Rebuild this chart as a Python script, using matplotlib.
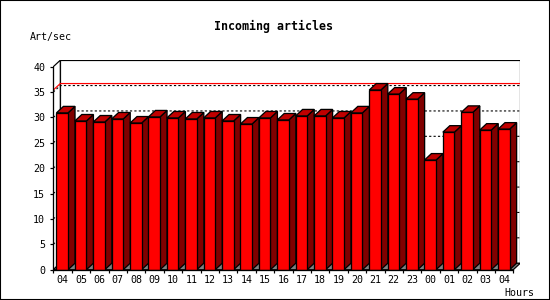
import matplotlib
matplotlib.use('Agg')
import matplotlib.pyplot as plt
from matplotlib.patches import Polygon, Rectangle

hours = ['04', '05', '06', '07', '08', '09', '10', '11', '12', '13', '14', '15', '16',
         '17', '18', '19', '20', '21', '22', '23', '00', '01', '02', '03', '04']
values = [30.9, 29.3, 29.1, 29.7, 28.9, 30.1, 29.9, 29.7, 29.9, 29.3, 28.7, 29.9, 29.5,
          30.3, 30.3, 29.9, 30.9, 35.4, 34.6, 33.6, 21.6, 27.1, 31.0, 27.5, 27.7]
y_ticks = [0, 5, 10, 15, 20, 25, 30, 35, 40]
title = 'Incoming articles'
y_label = 'Art/sec'
x_label = 'Hours'

plt.rcParams['font.family'] = 'DejaVu Sans Mono'

W, H = 550, 300
fig = plt.figure(figsize=(W / 100, H / 100), dpi=100)

# front plane layout in pixels, plus the 3d depth offset
left_px, bottom_px = 53.3, 30.3
slot_px, unit_px = 18.4, 5.075
depth_x_px, depth_y_px = 7.0, 6.5

n = len(hours)
ymax = y_ticks[-1]
dx = depth_x_px / slot_px
dy = depth_y_px / unit_px
px = 0.72  # one pixel in points

ax = fig.add_axes([left_px / W, bottom_px / H,
                   (n * slot_px + depth_x_px) / W, (ymax * unit_px + depth_y_px) / H])
ax.set_xlim(0, n + dx)
ax.set_ylim(0, ymax + dy)
ax.patch.set_visible(False)

# walls and floor
ax.add_patch(Rectangle((dx, dy), n, ymax, fc='white', ec='black', lw=px * 1.2, zorder=0.5))
ax.add_patch(Polygon([(0, 0), (dx, dy), (dx, ymax + dy), (0, ymax)], closed=True,
                     fc='white', ec='black', lw=px * 1.2, zorder=0.6))
ax.add_patch(Polygon([(0, 0), (n, 0), (n + dx, dy), (dx, dy)], closed=True,
                     fc='#808080', ec='black', lw=px * 1.2, zorder=0.7))

# dotted grid on back wall and side wall
for v in y_ticks[1:-1]:
    ax.plot([0, dx, n + dx], [v, v + dy, v + dy], color='black', lw=px * 1.1,
            dashes=(2, 2), zorder=0.8)

# max line
vmax = max(values)
ax.plot([0, dx, n + dx], [vmax, vmax + dy, vmax + dy], color='#ff0000', lw=px * 1.2, zorder=0.9)

# bars: side + top faces, then fronts
off, bw = 0.17, 0.63
for i, v in enumerate(values):
    x0 = i + off
    x1 = x0 + bw
    ax.add_patch(Polygon([(x1, 0), (x1 + dx, dy), (x1 + dx, v + dy), (x1, v)], closed=True,
                         fc='#800000', ec='black', lw=px * 1.3, zorder=2))
    ax.add_patch(Polygon([(x0, v), (x0 + dx, v + dy), (x1 + dx, v + dy), (x1, v)], closed=True,
                         fc='#c00000', ec='black', lw=px * 1.3, zorder=2))
ax.bar([i + off + bw / 2 for i in range(n)], values, width=bw, color='#ff0000',
       edgecolor='black', linewidth=px * 1.3, zorder=3)

# axes
for s in ['top', 'right']:
    ax.spines[s].set_visible(False)
ax.spines['left'].set_bounds(0, ymax)
ax.spines['bottom'].set_bounds(0, n)
for s in ['left', 'bottom']:
    ax.spines[s].set_linewidth(px * 1.3)
    ax.spines[s].set_zorder(4)

ax.set_yticks(y_ticks)
ax.set_yticklabels([str(t) for t in y_ticks])
ax.set_xticks(range(n + 1))
ax.set_xticklabels([])
ax.set_xticks([i + 0.5 for i in range(n)], minor=True)
ax.set_xticklabels(hours, minor=True)
ax.tick_params(axis='y', length=2.4, width=px * 1.2, pad=3.4, labelsize=7.2)
ax.tick_params(axis='x', which='major', length=2.4, width=px * 1.2)
ax.tick_params(axis='x', which='minor', length=0, pad=4.0, labelsize=7.2)

fig.text(273.5 / W, 1 - 26.7 / H, title, ha='center', va='center',
         fontsize=8.4, fontweight='bold')
fig.text(30 / W, 1 - 36.7 / H, y_label, ha='left', va='center', fontsize=7.2)
fig.text(504 / W, 1 - 292.7 / H, x_label, ha='left', va='center', fontsize=7.2)

# frame around the image
fig.patches.append(Rectangle((0, 0), 1, 1, transform=fig.transFigure, fill=False,
                             ec='black', lw=1.5))

fig.savefig('out.png', dpi=100)
